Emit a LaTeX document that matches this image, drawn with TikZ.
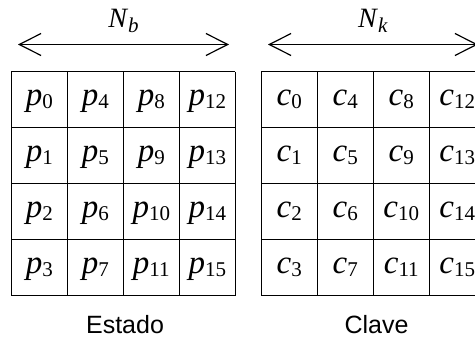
\documentclass[tikz,border=0pt]{standalone}
\usepackage{fontspec}
\setmainfont{Liberation Serif}
\setsansfont{Liberation Sans}
\usetikzlibrary{arrows.meta}
% italic letter with an upright index
\newcommand{\elem}[2]{\textit{#1}\raisebox{-3pt}{\fontsize{21}{21}\selectfont #2}}
\newcommand{\dimlbl}[2]{\textit{#1}\raisebox{-5pt}{\fontsize{21}{21}\selectfont\textit{#2}}}

\begin{document}
\begin{tikzpicture}[x=1pt,y=-1pt,
    cell/.style={minimum size=56pt, inner sep=0pt,
      text height=18pt, text depth=6pt, font=\fontsize{33}{33}\selectfont},
    span/.style={line width=1.2pt,
      {Straight Barb[length=21.7pt,width=22pt]}-{Straight Barb[length=21.7pt,width=22pt]}},
    dimtext/.style={anchor=base, inner sep=0pt, font=\fontsize{28}{28}\selectfont},
    caption/.style={anchor=base, inner sep=0pt, font=\sffamily\fontsize{25}{25}\selectfont}]
  \clip (0,0) rectangle (475,339);

  % widths of the two blocks
  \coordinate (bl) at (18,44.5);
  \coordinate (br) at (229,44.5);
  \coordinate (kl) at (268,44.5);
  \coordinate (kr) at (478,44.5);
  \draw[span] (bl) -- (br);
  \draw[span] (kl) -- (kr);
  \node[dimtext] (Nb) at (123.5,27.5) {\dimlbl{N}{b}};
  \node[dimtext] (Nk) at (373,27.5) {\dimlbl{N}{k}};

  % state and key, filled column by column
  \foreach \i in {0,...,3}
    \foreach \j in {0,...,3} {
      \pgfmathtruncatemacro\k{4*\i+\j}
      \node[cell] (p\k) at (39.3+56*\i, 99.8+56*\j) {\elem{p}{\k}};
      \node[cell] (c\k) at (289.3+56*\i, 99.8+56*\j) {\elem{c}{\k}};
    }

  % cell borders
  \foreach \x in {11.3,261.3} {
    \foreach \t in {0,...,4} {
      \draw[line width=1.3pt] (\x+56*\t,71.8) -- (\x+56*\t,295.8);
      \draw[line width=1.3pt] (\x,71.8+56*\t) -- (\x+224,71.8+56*\t);
    }
  }

  \node[caption] (estado) at (125,334) {Estado};
  \node[caption] (clave) at (376.5,334) {Clave};
\end{tikzpicture}
\end{document}
